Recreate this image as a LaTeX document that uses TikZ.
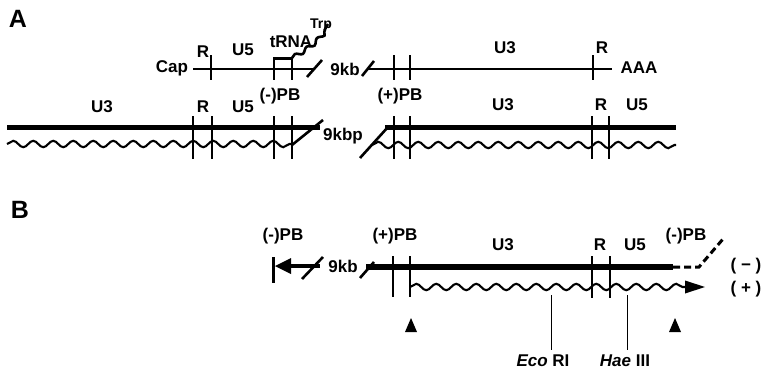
\documentclass[tikz,border=0pt]{standalone}
\usepackage{fontspec}
\setmainfont{Liberation Sans}
\usetikzlibrary{decorations.pathmorphing}
\begin{document}
\begin{tikzpicture}[x=1pt,y=-1pt,
  lbl/.style={font=\fontsize{17}{18}\selectfont\bfseries, inner sep=0pt, anchor=base},
  small/.style={font=\fontsize{14}{15}\selectfont\bfseries, inner sep=0pt, anchor=base},
  panel/.style={font=\fontsize{25}{26}\selectfont\bfseries, inner sep=0pt},
  rna/.style={line width=1.4pt},
  tickmark/.style={line width=2pt},
  dna/.style={line width=5.5pt},
  slash/.style={line width=2.6pt},
  wave/.style={line width=2.1pt, decorate, decoration={snake, segment length=20pt, amplitude=3.2pt}},
  site/.style={line width=1pt}]
\useasboundingbox (0,0) rectangle (764,372);

% ---------------- Panel A ----------------
\node[panel] (A) at (18,19) {A};

% RNA line
\node[lbl] (cap) at (172,72) {Cap};
\draw[rna] (193,69) -- (314,69);
\draw[rna] (368,69) -- (612,69);
\draw[slash] (307,77) -- (322,60);
\draw[slash] (362,76) -- (374,61);
\node[lbl] (kb1) at (345,75) {9kb};
\node[lbl] (aaa) at (639,73) {AAA};
\draw[tickmark] (211,55) -- (211,80);
\draw[tickmark] (274,57) -- (274,80);
\draw[tickmark] (292,57) -- (292,80);
\draw[tickmark] (394,55) -- (394,80);
\draw[tickmark] (410,55) -- (410,80);
\draw[tickmark] (593,55) -- (593,80);
\draw[line width=3pt] (273,58) -- (293,58);
\draw[line width=2.6pt, decorate, decoration={snake, segment length=14pt, amplitude=2pt}]
  (292,58) .. controls (306,50) and (318,42) .. (328,24);
\node[lbl] (trna) at (291,47) {tRNA};
\node[small] (trp) at (321,28) {Trp};
\node[lbl] (rT1) at (203,57) {R};
\node[lbl] (u5T) at (243,55) {U5};
\node[lbl] (u3T) at (505,53) {U3};
\node[lbl] (rT2) at (602,53) {R};

% DNA (A)
\draw[dna] (7,127.5) -- (320,127.5);
\draw[dna] (385,127.5) -- (676,127.5);
\draw[wave] (7,144) -- (292,144);
\draw[wave] (372,145) -- (676,145);
\draw[slash] (292,145) -- (323,120);
\draw[slash] (360,158) -- (388,127);
\foreach \x in {193,212,274,292,394,410,592,609}
  \draw[tickmark] (\x,116) -- (\x,159);
\node[lbl] (kbp) at (343,140) {9kbp};
\node[lbl] (u3A) at (102,112) {U3};
\node[lbl] (rA1) at (203,112) {R};
\node[lbl] (u5A) at (243,112) {U5};
\node[lbl] (mpbA) at (280,100) {(-)PB};
\node[lbl] (ppbA) at (400,100) {(+)PB};
\node[lbl] (u3A2) at (503,110) {U3};
\node[lbl] (rA2) at (601,110) {R};
\node[lbl] (u5A2) at (637,110) {U5};

% ---------------- Panel B ----------------
\node[panel] (B) at (20,210) {B};
\draw[line width=3pt] (273,257) -- (273,283);
\fill (275,266) -- (291,258) -- (291,274) -- cycle;
\draw[line width=4pt] (289,266) -- (320,266);
\draw[slash] (302,279) -- (323,257);
\node[lbl] (kb2) at (343,272) {9kb};
\draw[slash] (360,278) -- (374,262);
\draw[dna] (366,267) -- (673,267);
\draw[line width=3pt, dash pattern=on 7pt off 4pt] (673,267) -- (699,267) -- (723,239);
\draw[tickmark] (393,256) -- (393,297);
\draw[tickmark] (410,256) -- (410,297);
\draw[tickmark] (592,256) -- (592,298);
\draw[tickmark] (610,256) -- (610,298);
\draw[wave] (410,287) -- (688,287);
\fill (685,280.5) -- (705,287) -- (685,293.5) -- cycle;
\node[lbl] (mpbB) at (283,240) {(-)PB};
\node[lbl] (ppbB) at (395,240) {(+)PB};
\node[lbl] (u3B) at (503,250) {U3};
\node[lbl] (rB) at (600,250) {R};
\node[lbl] (u5B) at (635,250) {U5};
\node[lbl] (mpbB2) at (686,240) {(-)PB};
\node[lbl] (minus) at (746,270) {( − )};
\node[lbl] (plus) at (746,293) {( + )};
\fill (405,332) -- (417,332) -- (411,318) -- cycle;
\fill (669,332) -- (681,332) -- (675,318) -- cycle;
\draw[site] (551,295) -- (551,350);
\draw[site] (627,295) -- (627,350);
\node[lbl] (eco) at (543,366) {\textit{Eco} RI};
\node[lbl] (hae) at (625,366) {\textit{Hae} III};
\end{tikzpicture}
\end{document}
